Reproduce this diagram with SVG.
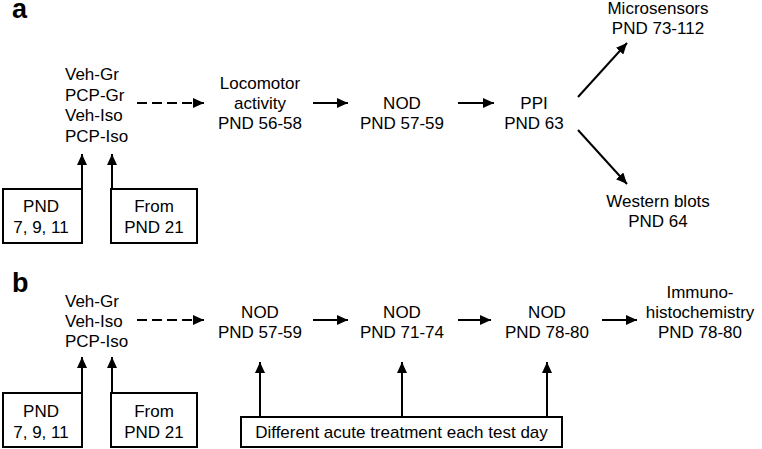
<svg xmlns="http://www.w3.org/2000/svg" width="762" height="449" viewBox="0 0 762 449">
<defs>
<marker id="ah" markerUnits="userSpaceOnUse" markerWidth="11" markerHeight="10" refX="11" refY="5" orient="auto">
<path d="M0,0 L11,5 L0,10 z" fill="#000"/>
</marker>
<style>
text{font-family:"Liberation Sans",Arial,sans-serif;font-size:17px;fill:#000}
.c{text-anchor:middle}
.lbl{font-weight:bold;font-size:27px}
.box{fill:#fff;stroke:#000;stroke-width:2}
.con line{stroke:#000;stroke-width:2;marker-end:url(#ah)}
.con .d{stroke-dasharray:10 5}
</style>
</defs>
<rect width="762" height="449" fill="#fff"/>
<text class="lbl" x="12" y="18">a</text>
<text class="lbl" x="12" y="292">b</text>

<g id="a-groups"><text x="65" y="80">Veh-Gr</text><text x="65" y="100.5">PCP-Gr</text><text x="65" y="121">Veh-Iso</text><text x="65" y="141.5">PCP-Iso</text></g>
<g id="a-pnd"><rect class="box" x="3" y="189" width="79" height="54"/><text class="c" x="41" y="212">PND</text><text class="c" x="41" y="233">7, 9, 11</text></g>
<g id="a-from"><rect class="box" x="111" y="189" width="86" height="54"/><text class="c" x="154" y="212">From</text><text class="c" x="154" y="233">PND 21</text></g>
<g id="a-loco"><text class="c" x="260" y="89">Locomotor</text><text class="c" x="260" y="109">activity</text><text class="c" x="260" y="129">PND 56-58</text></g>
<g id="a-nod"><text class="c" x="402" y="109">NOD</text><text class="c" x="402" y="129">PND 57-59</text></g>
<g id="a-ppi"><text class="c" x="534" y="109">PPI</text><text class="c" x="534" y="129">PND 63</text></g>
<g id="a-micro"><text class="c" x="658" y="14">Microsensors</text><text class="c" x="658" y="34">PND 73-112</text></g>
<g id="a-western"><text class="c" x="658" y="207">Western blots</text><text class="c" x="658" y="227">PND 64</text></g>

<g id="b-groups"><text x="65" y="307">Veh-Gr</text><text x="65" y="327">Veh-Iso</text><text x="65" y="347">PCP-Iso</text></g>
<g id="b-pnd"><rect class="box" x="3" y="393" width="79" height="54"/><text class="c" x="41" y="417">PND</text><text class="c" x="41" y="438">7, 9, 11</text></g>
<g id="b-from"><rect class="box" x="111" y="393" width="86" height="54"/><text class="c" x="154" y="417">From</text><text class="c" x="154" y="438">PND 21</text></g>
<g id="b-nod1"><text class="c" x="260" y="318">NOD</text><text class="c" x="260" y="338">PND 57-59</text></g>
<g id="b-nod2"><text class="c" x="402" y="318">NOD</text><text class="c" x="402" y="338">PND 71-74</text></g>
<g id="b-nod3"><text class="c" x="547" y="318">NOD</text><text class="c" x="547" y="338">PND 78-80</text></g>
<g id="b-immuno"><text class="c" x="700" y="298">Immuno-</text><text class="c" x="700" y="318">histochemistry</text><text class="c" x="700" y="338">PND 78-80</text></g>
<g id="b-acute"><rect class="box" x="241" y="417" width="321" height="30"/><text class="c" x="401.5" y="438">Different acute treatment each test day</text></g>

<g id="connectors" class="con">
<line class="d" x1="137" y1="103" x2="204" y2="103"/>
<line x1="313" y1="103" x2="348" y2="103"/>
<line x1="458" y1="103" x2="494" y2="103"/>
<line x1="578" y1="97" x2="627" y2="43"/>
<line x1="578" y1="130" x2="627" y2="184"/>
<line x1="82" y1="189" x2="82" y2="154"/>
<line x1="112" y1="189" x2="112" y2="154"/>
<line class="d" x1="137" y1="320" x2="204" y2="320"/>
<line x1="313" y1="320" x2="348" y2="320"/>
<line x1="458" y1="320" x2="491" y2="320"/>
<line x1="602" y1="320" x2="637" y2="320"/>
<line x1="82" y1="393" x2="82" y2="357"/>
<line x1="112" y1="393" x2="112" y2="357"/>
<line x1="260" y1="417" x2="260" y2="362"/>
<line x1="402" y1="417" x2="402" y2="362"/>
<line x1="547" y1="417" x2="547" y2="362"/>
</g>
</svg>
